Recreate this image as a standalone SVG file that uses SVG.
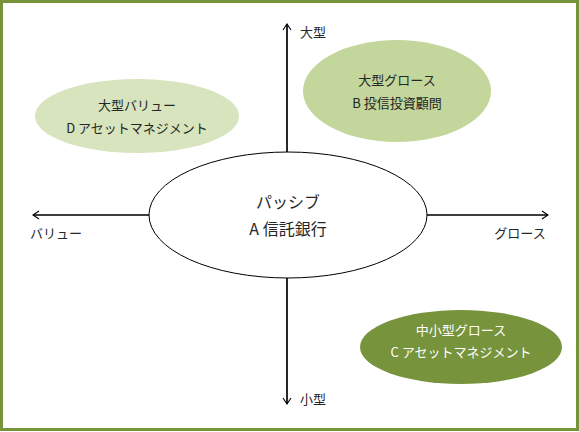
<svg xmlns="http://www.w3.org/2000/svg" width="579" height="432" viewBox="0 0 579 432">
<defs>
<style>
text{font-family:"Noto Sans CJK JP","Liberation Sans",sans-serif;text-anchor:middle;fill:#262626}
.s{font-size:13px}
.l{font-size:16px}
.w{fill:#ffffff}
.ax{stroke:#000;stroke-width:1.2;fill:none}
</style>
<marker id="ah" markerWidth="10" markerHeight="10" refX="8" refY="5" orient="auto" markerUnits="userSpaceOnUse">
<path d="M2,1 L8,5 L2,9" fill="none" stroke="#000" stroke-width="1.1"/>
</marker>
</defs>
<rect x="1.5" y="1.5" width="576" height="428" fill="#fff" stroke="#77933C" stroke-width="3"/>
<g id="connectors">
<line class="ax" x1="287" y1="404" x2="287" y2="24" marker-end="url(#ah)"/>
<line class="ax" x1="287" y1="24" x2="287" y2="404" marker-end="url(#ah)"/>
<line class="ax" x1="33" y1="215" x2="548" y2="215" marker-end="url(#ah)"/>
<line class="ax" x1="548" y1="215" x2="33" y2="215" marker-end="url(#ah)"/>
</g>
<g id="axis-labels">
<text class="s" x="313" y="37">大型</text>
<text class="s" x="313" y="404">小型</text>
<text class="s" x="56" y="238">バリュー</text>
<text class="s" x="520" y="238">グロース</text>
</g>
<g id="node-D">
<ellipse cx="137" cy="116" rx="102" ry="37" fill="#D7E4BD"/>
<text class="s" x="137" y="110">大型バリュー</text>
<text class="s" x="137" y="133">D アセットマネジメント</text>
</g>
<g id="node-B">
<ellipse cx="397" cy="91" rx="94" ry="51" fill="#C3D69B"/>
<text class="s" x="397" y="85">大型グロース</text>
<text class="s" x="397" y="108">B 投信投資顧問</text>
</g>
<g id="node-A">
<ellipse cx="288" cy="215" rx="139" ry="63" fill="#fff" stroke="#000" stroke-width="1"/>
<text class="l" x="288" y="208">パッシブ</text>
<text class="l" x="288" y="235">A 信託銀行</text>
</g>
<g id="node-C">
<ellipse cx="461" cy="347" rx="101" ry="37" fill="#77933C"/>
<text class="s w" x="461" y="335">中小型グロース</text>
<text class="s w" x="461" y="357">C アセットマネジメント</text>
</g>
</svg>
